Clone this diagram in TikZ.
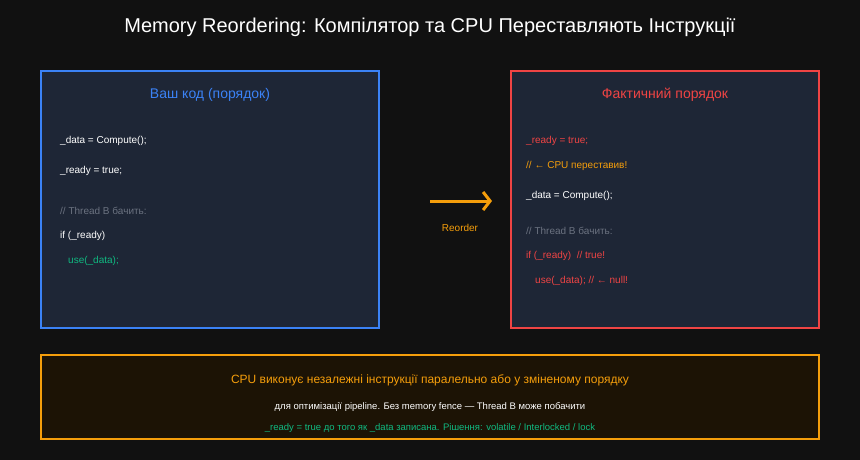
\documentclass[tikz,border=0pt]{standalone}
\usepackage{fontspec}
\setmainfont{Liberation Sans}
\usetikzlibrary{arrows.meta}
\definecolor{bg}{HTML}{111111}
\definecolor{panel}{HTML}{1E2636}
\definecolor{notebg}{HTML}{1C1305}
\definecolor{cblue}{HTML}{3B82F6}
\definecolor{cred}{HTML}{EF4444}
\definecolor{corange}{HTML}{F59E0B}
\definecolor{cgreen}{HTML}{10B981}
\definecolor{cgray}{HTML}{6B7280}
\begin{document}
\begin{tikzpicture}[x=1pt, y=-1pt,
  box/.style = {line width=2.5pt, fill=panel},
  code/.style = {anchor=west, font=\fontsize{10}{12}\selectfont, text=white, inner sep=0},
  head/.style = {font=\fontsize{14}{16}\selectfont}]
  \fill[bg] (0,0) rectangle (860,460);
  \node[text=white, font=\fontsize{20}{24}\selectfont] (title) at (430,27) {Memory Reordering: Компілятор та CPU Переставляють Інструкції};
  % left panel
  \draw[box, draw=cblue] (41,71) rectangle (379,328);
  \node[head, text=cblue] (lhead) at (210,95) {Ваш код (порядок)};
  \node[code] (l1) at (60,141) {\_data = Compute();};
  \node[code] (l2) at (60,171) {\_ready = true;};
  \node[code, text=cgray] (l3) at (60,211) {// Thread B бачить:};
  \node[code] (l4) at (60,236) {if (\_ready)};
  \node[code, text=cgreen] (l5) at (68,261) {use(\_data);};
  % right panel
  \draw[box, draw=cred] (511,71) rectangle (819,328);
  \node[head, text=cred] (rhead) at (665,95) {Фактичний порядок};
  \node[code, text=cred] (r1) at (526,141) {\_ready = true;};
  \node[code, text=corange] (r2) at (526,166) {// ← CPU переставив!};
  \node[code] (r3) at (526,196) {\_data = Compute();};
  \node[code, text=cgray] (r4) at (526,231) {// Thread B бачить:};
  \node[code, text=cred] (r5) at (526,256) {if (\_ready)~~// true!};
  \node[code, text=cred] (r6) at (535,281) {use(\_data); // ← null!};
  % reorder arrow
  \coordinate (a1) at (430,201);
  \coordinate (a2) at (492,201);
  \draw[corange, line width=3pt, -{Straight Barb[length=7pt, width=18pt]}] (a1) -- (a2);
  \node[text=corange, font=\fontsize{10}{12}\selectfont] (reo) at (460,228) {Reorder};
  % note
  \draw[draw=corange, line width=1.5pt, fill=notebg] (41,355) rectangle (819,439);
  \node[text=corange, font=\fontsize{12}{14}\selectfont] (n1) at (430,380) {CPU виконує незалежні інструкції паралельно або у зміненому порядку};
  \node[text=white, font=\fontsize{9.5}{11}\selectfont] (n2) at (430,407) {для оптимізації pipeline. Без memory fence — Thread B може побачити};
  \node[text=cgreen, font=\fontsize{9.5}{11}\selectfont] (n3) at (430,428) {\_ready = true до того як \_data записана. Рішення: volatile / Interlocked / lock};
\end{tikzpicture}
\end{document}
